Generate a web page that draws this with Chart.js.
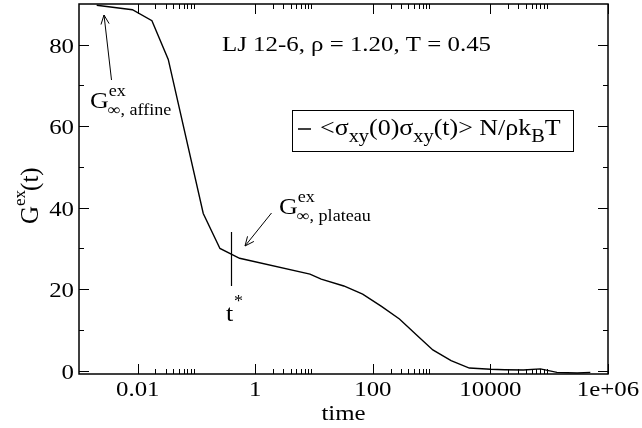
<!DOCTYPE html>
<html>
<head>
<meta charset="utf-8">
<script src="https://cdn.jsdelivr.net/npm/chart.js@4.4.1/dist/chart.umd.min.js"></script>
<style>
html,body{margin:0;padding:0;background:#fff;}
#wrap{width:642px;height:428px;position:relative;}
</style>
</head>
<body>
<div id="wrap"><canvas id="c" width="642" height="428"></canvas></div>
<script>
// Data
const times = [0.002, 0.0081, 0.0174, 0.033, 0.13, 0.25, 0.54, 8.5, 13.2, 32, 67, 140, 283, 560, 1047, 2140, 4370, 10000, 17400, 36300, 70800, 135000, 300000, 500000];
const values = [89.7, 88.6, 85.9, 76.4, 38.6, 30.0, 27.6, 23.7, 22.5, 20.8, 18.8, 15.8, 12.7, 8.7, 5.1, 2.5, 0.66, 0.35, 0.25, 0.2, 0.45, -0.4, -0.55, -0.4];
const xMajorTicks = [0.01, 1, 100, 10000, 1000000];
const xTickLabels = ["0.01", "1", "100", "10000", "1e+06"];
const yMajorTicks = [0, 20, 40, 60, 80];
const yTickLabels = ["0", "20", "40", "60", "80"];
const yMinorTicks = [10, 30, 50, 70];
const seriesLabel = "<σxy(0)σxy(t)> N/ρkBT";

const FONT = "'Liberation Serif', 'Times New Roman', serif";
const SX = 1.13;

function xMinorTicks() {
  const out = [];
  xMajorTicks.forEach(m => { for (let k = 2; k <= 9; k++) out.push(m * k); });
  return out.filter(v => v < 1000000);
}

function richWidth(ctx, parts, fs, small) {
  let w = 0;
  parts.forEach(([t, mode]) => {
    ctx.font = (mode === 'n' ? fs : small) + "px " + FONT;
    w += ctx.measureText(t).width;
  });
  return w;
}
function richLocal(ctx, x0, parts, fs, small) {
  let cx = x0;
  parts.forEach(([t, mode]) => {
    let f = fs, dy = 0;
    if (mode === 'sub') { f = small; dy = fs * 0.3; }
    if (mode === 'sup') { f = small; dy = -fs * 0.45; }
    ctx.font = f + "px " + FONT;
    ctx.fillText(t, cx, dy);
    cx += ctx.measureText(t).width;
  });
  return cx;
}
// horizontally stretched text at a screen position
function stext(ctx, x, y, parts, align, fs, small) {
  ctx.save();
  ctx.translate(x, y);
  ctx.scale(SX, 1);
  ctx.textAlign = 'left';
  ctx.textBaseline = 'alphabetic';
  const w = richWidth(ctx, parts, fs, small);
  let x0 = 0;
  if (align === 'center') x0 = -w / 2;
  if (align === 'right') x0 = -w;
  richLocal(ctx, x0, parts, fs, small);
  ctx.restore();
}
// G with stacked superscript and subscript
function gLabel(ctx, x, y, sub) {
  ctx.save();
  ctx.translate(x, y);
  ctx.scale(SX, 1);
  ctx.textBaseline = 'alphabetic';
  ctx.textAlign = 'left';
  ctx.font = "23px " + FONT;
  ctx.fillText("G", 0, 0);
  const gw = ctx.measureText("G").width;
  ctx.font = "16px " + FONT;
  ctx.fillText("ex", gw, -12);
  ctx.fillText(sub, gw - 1, 7);
  ctx.restore();
}

function arrow(ctx, x1, y1, x2, y2) {
  ctx.beginPath();
  ctx.moveTo(x1, y1); ctx.lineTo(x2, y2);
  const a = Math.atan2(y2 - y1, x2 - x1);
  const L = 10, w = 0.42;
  ctx.moveTo(x2 - L * Math.cos(a - w), y2 - L * Math.sin(a - w));
  ctx.lineTo(x2, y2);
  ctx.lineTo(x2 - L * Math.cos(a + w), y2 - L * Math.sin(a + w));
  ctx.stroke();
}

const decor = {
  id: 'decor',
  afterDatasetsDraw(chart) {
    const ctx = chart.ctx;
    const xs = chart.scales.x, ys = chart.scales.y;
    const a = chart.chartArea;
    ctx.save();
    ctx.strokeStyle = '#000';
    ctx.fillStyle = '#000';
    // frame
    ctx.lineWidth = 1.5;
    ctx.strokeRect(a.left, a.top, a.right - a.left, a.bottom - a.top);
    // ticks (inward, on all four sides)
    ctx.lineWidth = 1;
    ctx.beginPath();
    xMajorTicks.forEach(v => {
      const p = Math.round(xs.getPixelForValue(v)) + 0.5;
      ctx.moveTo(p, a.bottom); ctx.lineTo(p, a.bottom - 10);
      ctx.moveTo(p, a.top); ctx.lineTo(p, a.top + 10);
    });
    xMinorTicks().forEach(v => {
      const p = Math.round(xs.getPixelForValue(v)) + 0.5;
      ctx.moveTo(p, a.bottom); ctx.lineTo(p, a.bottom - 5);
      ctx.moveTo(p, a.top); ctx.lineTo(p, a.top + 5);
    });
    yMajorTicks.forEach(v => {
      const p = Math.round(ys.getPixelForValue(v)) + 0.5;
      ctx.moveTo(a.left, p); ctx.lineTo(a.left + 10, p);
      ctx.moveTo(a.right, p); ctx.lineTo(a.right - 10, p);
    });
    yMinorTicks.forEach(v => {
      const p = Math.round(ys.getPixelForValue(v)) + 0.5;
      ctx.moveTo(a.left, p); ctx.lineTo(a.left + 5, p);
      ctx.moveTo(a.right, p); ctx.lineTo(a.right - 5, p);
    });
    ctx.stroke();

    // tick labels (positions from the library's scales)
    xMajorTicks.forEach((v, i) => {
      stext(ctx, xs.getPixelForValue(v), a.bottom + 22, [[xTickLabels[i], 'n']], 'center', 22, 16);
    });
    yMajorTicks.forEach((v, i) => {
      stext(ctx, a.left - 5, ys.getPixelForValue(v) + 8, [[yTickLabels[i], 'n']], 'right', 22, 16);
    });
    // x axis title
    stext(ctx, (a.left + a.right) / 2, 420, [["time", 'n']], 'center', 22, 16);

    // y axis title (rotated)
    ctx.save();
    ctx.translate(38, 224);
    ctx.rotate(-Math.PI / 2);
    ctx.textAlign = 'left';
    ctx.textBaseline = 'alphabetic';
    ctx.font = "25px " + FONT;
    ctx.fillText("G", 0, 0);
    const gw = ctx.measureText("G").width;
    ctx.font = "17px " + FONT;
    ctx.fillText("ex", gw, -13);
    const ew = ctx.measureText("ex").width;
    ctx.font = "25px " + FONT;
    ctx.fillText("(t)", gw + ew - 1, 0);
    ctx.restore();

    // annotation text
    stext(ctx, 222, 51, [["LJ 12-6, ρ = 1.20, T = 0.45", 'n']], 'left', 22, 16);

    // legend box
    ctx.lineWidth = 1;
    ctx.strokeRect(292.5, 110.5, 281, 41);
    ctx.lineWidth = 1.5;
    ctx.beginPath(); ctx.moveTo(298, 129); ctx.lineTo(311, 129); ctx.stroke();
    stext(ctx, 320, 135, [["<σ", 'n'], ["xy", 'sub'], ["(0)σ", 'n'], ["xy", 'sub'], ["(t)> N/ρk", 'n'], ["B", 'sub'], ["T", 'n']], 'left', 23, 18);

    // affine annotation
    ctx.lineWidth = 1;
    arrow(ctx, 111.5, 80, 104, 15);
    gLabel(ctx, 90, 108, "∞, affine");

    // plateau annotation
    arrow(ctx, 271.5, 213, 245, 246);
    gLabel(ctx, 279, 214, "∞, plateau");

    // t* marker
    ctx.lineWidth = 1.2;
    ctx.beginPath(); ctx.moveTo(231.5, 232); ctx.lineTo(231.5, 286); ctx.stroke();
    stext(ctx, 226, 321, [["t", 'n']], 'left', 23, 16);
    stext(ctx, 234, 306, [["*", 'n']], 'left', 16, 16);

    ctx.restore();
  }
};

const points = times.map((t, i) => ({ x: t, y: values[i] }));

new Chart(document.getElementById('c'), {
  type: 'line',
  data: {
    datasets: [{
      label: seriesLabel,
      data: points,
      borderColor: '#000',
      borderWidth: 1.4,
      pointRadius: 0,
      fill: false,
      tension: 0
    }]
  },
  options: {
    responsive: false,
    animation: false,
    devicePixelRatio: 1,
    layout: { padding: { left: 0, top: 4, right: 34, bottom: 0 } },
    plugins: { legend: { display: false }, tooltip: { enabled: false } },
    scales: {
      x: {
        type: 'logarithmic',
        min: 0.001,
        max: 1000000,
        afterBuildTicks: s => { s.ticks = xMajorTicks.map(v => ({ value: v })); },
        afterFit: s => { s.height = 54; s.paddingLeft = 0; s.paddingRight = 0; },
        ticks: { display: false },
        grid: { display: false, drawTicks: false },
        border: { display: false }
      },
      y: {
        min: -0.8,
        max: 90,
        afterBuildTicks: s => { s.ticks = yMajorTicks.map(v => ({ value: v })); },
        afterFit: s => { s.width = 79; s.paddingTop = 0; s.paddingBottom = 0; },
        ticks: { display: false },
        grid: { display: false, drawTicks: false },
        border: { display: false }
      }
    }
  },
  plugins: [decor]
});
</script>
</body>
</html>
